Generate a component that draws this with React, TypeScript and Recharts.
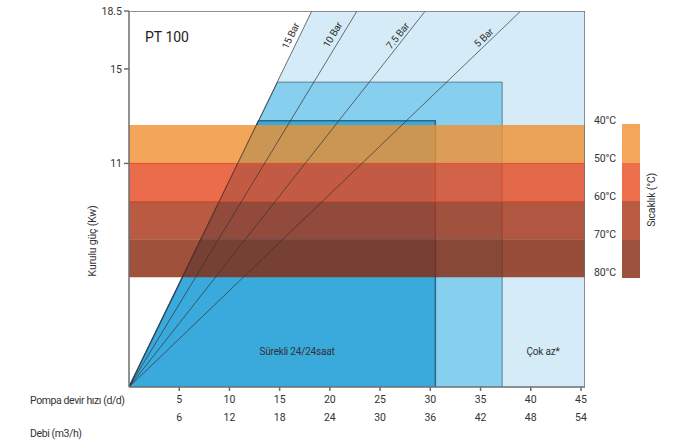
import React from 'react';
import { ComposedChart, Area, Line, XAxis, YAxis } from 'recharts';

const FONT = 'Roboto, sans-serif';

// x: pompa devir hızı (d/d), second row: debi (m3/h); y: kurulu güç (kW)
const rpmTicks = [5, 10, 15, 20, 25, 30, 35, 40, 45];
const flowTicks = [6, 12, 18, 24, 30, 36, 42, 48, 54];
const yTicks = [11, 15.65, 18.5];
const yTickLabels = ['11', '15', '18.5'];

// pressure lines, from origin to where they hit the top (18.5 kW)
const barNames = ['15 Bar', '10 Bar', '7.5 Bar', '5 Bar'];
const barEndX = [18.2, 22.7, 29.5, 39.0];

// working zones
const lightZone = [{ x: 0, y: 0 }, { x: 18.2, y: 18.5 }, { x: 45.4, y: 18.5 }];
const midZone = [{ x: 0, y: 0 }, { x: 14.8, y: 15 }, { x: 37.15, y: 15 }, { x: 37.15, y: 0 }];
const darkZone = [{ x: 0, y: 0 }, { x: 12.9, y: 13.1 }, { x: 30.5, y: 13.1 }, { x: 30.5, y: 0 }];

// temperature bands
const tempLabels = ['40°C', '50°C', '60°C', '70°C', '80°C'];
const bandEdges = [12.89, 11.0, 9.12, 7.27, 5.4];
const bandColors = ['#f09031', '#e6471e', '#a73213', '#87260a'];
const legendColors = ['#f4a65a', '#ec6e4b', '#b95c42', '#9c523d'];

const X_MAX = 45.4;
const Y_MAX = 18.5;

const frame = [{ x: 0, y: Y_MAX }, { x: X_MAX, y: Y_MAX }, { x: X_MAX, y: 0 }];

const bands = bandColors.map((c, i) => ({
  color: c,
  data: [
    { x: 0, r: [bandEdges[i + 1], bandEdges[i]] },
    { x: X_MAX, r: [bandEdges[i + 1], bandEdges[i]] },
  ],
}));

// label placement (px)
const barLabelPos = [
  { left: 291, top: 36, angle: -64 },
  { left: 333, top: 35, angle: -59 },
  { left: 398, top: 36, angle: -52 },
  { left: 484, top: 38, angle: -44 },
];
const tempLabelTop = [121, 159, 197, 235, 273];

const XTick = (props: any) => {
  const { x, y, payload } = props;
  const i = rpmTicks.indexOf(payload.value);
  return (
    <g>
      <text x={x} y={y + 10} textAnchor="middle" fontSize={10.5} fill="#333" fontFamily={FONT}>
        {payload.value}
      </text>
      <text x={x} y={y + 28} textAnchor="middle" fontSize={10.5} fill="#333" fontFamily={FONT}>
        {flowTicks[i]}
      </text>
    </g>
  );
};

const abs = (left: number, top: number, extra: React.CSSProperties = {}): React.CSSProperties => ({
  position: 'absolute',
  left,
  top,
  transform: 'translate(-50%, -50%)',
  whiteSpace: 'nowrap',
  lineHeight: 1,
  fontFamily: FONT,
  fontSize: 10.5,
  letterSpacing: -0.2,
  color: '#333',
  ...extra,
});

export default function App() {
  return (
    <div style={{ position: 'absolute', left: 0, top: 0, width: 690, height: 446, background: '#fff' }}>
      <ComposedChart width={690} height={446} margin={{ top: 11, right: 105, bottom: 0, left: 0 }}>
        <XAxis
          type="number"
          dataKey="x"
          domain={[0, X_MAX]}
          ticks={rpmTicks}
          allowDataOverflow
          height={59}
          tickSize={4}
          stroke="#6d6e70"
          strokeWidth={1.5}
          tick={<XTick />}
        />
        <YAxis
          type="number"
          domain={[0, Y_MAX]}
          ticks={yTicks}
          allowDataOverflow
          width={129}
          tickSize={5}
          stroke="#6d6e70"
          strokeWidth={1.5}
          tickFormatter={(v: number) => yTickLabels[yTicks.indexOf(v)]}
          tick={{ fontSize: 10.5, fill: '#333', fontFamily: FONT }}
        />
        <Area data={lightZone} dataKey="y" type="linear" fill="#d5ecf8" fillOpacity={1} stroke="none" isAnimationActive={false} />
        <Area data={midZone} dataKey="y" type="linear" fill="#86cfef" fillOpacity={1} stroke="#5d7f90" strokeWidth={1} isAnimationActive={false} />
        <Area data={darkZone} dataKey="y" type="linear" fill="#3aa9dc" fillOpacity={1} stroke="#2e6688" strokeWidth={1.5} isAnimationActive={false} />
        {bands.map((b, i) => (
          <Area
            key={i}
            data={b.data}
            dataKey="r"
            type="linear"
            fill={b.color}
            fillOpacity={0.8}
            stroke={i === 1 ? '#e0502a' : 'none'}
            strokeWidth={1}
            isAnimationActive={false}
          />
        ))}
        {barEndX.map((ex, i) => (
          <Line
            key={i}
            data={[{ x: 0, y: 0 }, { x: ex, y: Y_MAX }]}
            dataKey="y"
            type="linear"
            stroke="#333"
            strokeWidth={0.7}
            dot={false}
            isAnimationActive={false}
          />
        ))}
        <Line data={frame} dataKey="y" type="linear" stroke="#6d6e70" strokeWidth={1.5} dot={false} isAnimationActive={false} />
      </ComposedChart>

      <div style={abs(167, 37, { fontSize: 14, color: '#222', letterSpacing: 0 })}>PT 100</div>
      {barNames.map((n, i) => (
        <div
          key={n}
          style={abs(barLabelPos[i].left, barLabelPos[i].top, {
            fontSize: 10,
            transform: `translate(-50%, -50%) rotate(${barLabelPos[i].angle}deg)`,
          })}
        >
          {n}
        </div>
      ))}
      <div style={abs(297, 352, { fontSize: 10 })}>Sürekli 24/24saat</div>
      <div style={abs(543, 352, { fontSize: 10 })}>Çok az*</div>

      <div style={abs(93, 241, { transform: 'translate(-50%, -50%) rotate(-90deg)' })}>Kurulu güç (Kw)</div>
      <div style={abs(30, 401, { transform: 'translate(0, -50%)', letterSpacing: -0.4 })}>Pompa devir hızı (d/d)</div>
      <div style={abs(30, 434, { transform: 'translate(0, -50%)', letterSpacing: -0.4 })}>Debi (m3/h)</div>

      {tempLabels.map((t, i) => (
        <div key={t} style={abs(605, tempLabelTop[i])}>{t}</div>
      ))}
      <div style={{ position: 'absolute', left: 622, top: 124, width: 18 }}>
        {legendColors.map((c) => (
          <div key={c} style={{ height: 38.5, background: c }} />
        ))}
      </div>
      <div style={abs(652, 200, { transform: 'translate(-50%, -50%) rotate(-90deg)' })}>Sıcaklık (°C)</div>
    </div>
  );
}
